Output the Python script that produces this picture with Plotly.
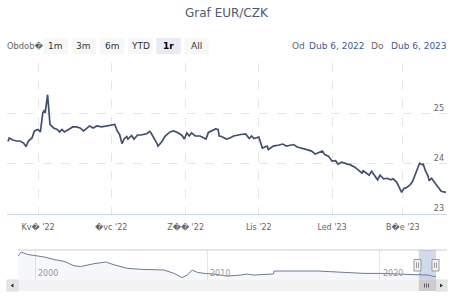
import plotly.graph_objects as go

W, H = 454, 302

# ---- main series: EUR/CZK, last year ----
dates = [
    "2022-04-06", "2022-04-07", "2022-04-10", "2022-04-13", "2022-04-16", "2022-04-19",
    "2022-04-21", "2022-04-23", "2022-04-26", "2022-04-28", "2022-05-01", "2022-05-03",
    "2022-05-05", "2022-05-06", "2022-05-07", "2022-05-09", "2022-05-10", "2022-05-11",
    "2022-05-14", "2022-05-17", "2022-05-19", "2022-05-21", "2022-05-23", "2022-05-26",
    "2022-05-30", "2022-06-02", "2022-06-05", "2022-06-08", "2022-06-11", "2022-06-13",
    "2022-06-16", "2022-06-19", "2022-06-23", "2022-06-27", "2022-07-01", "2022-07-04",
    "2022-07-06", "2022-07-08", "2022-07-10", "2022-07-12", "2022-07-14", "2022-07-15",
    "2022-07-18", "2022-07-20", "2022-07-23", "2022-07-26", "2022-07-31", "2022-08-02",
    "2022-08-03", "2022-08-05", "2022-08-08", "2022-08-09", "2022-08-12", "2022-08-15",
    "2022-08-19", "2022-08-22", "2022-08-26", "2022-08-29", "2022-08-31", "2022-09-02",
    "2022-09-04", "2022-09-06", "2022-09-09", "2022-09-13", "2022-09-15", "2022-09-18",
    "2022-09-20", "2022-09-23", "2022-09-26", "2022-09-28", "2022-09-29", "2022-10-01",
    "2022-10-05", "2022-10-08", "2022-10-11", "2022-10-17", "2022-10-21", "2022-10-24",
    "2022-10-26", "2022-10-28", "2022-11-01", "2022-11-04", "2022-11-08", "2022-11-09",
    "2022-11-13", "2022-11-18", "2022-11-21", "2022-11-24", "2022-11-30", "2022-12-03",
    "2022-12-07", "2022-12-11", "2022-12-15", "2022-12-18", "2022-12-21", "2022-12-24",
    "2022-12-26", "2022-12-29", "2023-01-01", "2023-01-04", "2023-01-06", "2023-01-09",
    "2023-01-14", "2023-01-16", "2023-01-20", "2023-01-23", "2023-01-26", "2023-01-27",
    "2023-01-30", "2023-02-01", "2023-02-03", "2023-02-05", "2023-02-08", "2023-02-10",
    "2023-02-13", "2023-02-16", "2023-02-19", "2023-02-21", "2023-02-24", "2023-02-26",
    "2023-02-28", "2023-03-02", "2023-03-03", "2023-03-05", "2023-03-07", "2023-03-09",
    "2023-03-11", "2023-03-13", "2023-03-15", "2023-03-17", "2023-03-18", "2023-03-20",
    "2023-03-22", "2023-03-23", "2023-03-25", "2023-03-28", "2023-03-31", "2023-04-02",
    "2023-04-06",
]
values = [
    24.44, 24.51, 24.47, 24.45, 24.45, 24.41,
    24.34, 24.45, 24.51, 24.65, 24.68, 24.63,
    25.01, 25.05, 25.01, 25.37, 25.08, 24.78,
    24.71, 24.68, 24.63, 24.68, 24.63, 24.68,
    24.73, 24.73, 24.71, 24.65, 24.71, 24.75,
    24.71, 24.75, 24.73, 24.75, 24.76, 24.78,
    24.65, 24.58, 24.40, 24.50, 24.54, 24.49,
    24.56, 24.49, 24.57, 24.57, 24.60, 24.64,
    24.62, 24.54, 24.41, 24.35, 24.43, 24.55,
    24.63, 24.65, 24.61, 24.56, 24.49, 24.61,
    24.55, 24.61, 24.55, 24.55, 24.52, 24.49,
    24.62, 24.66, 24.69, 24.68, 24.55, 24.54,
    24.49, 24.51, 24.55, 24.58, 24.59, 24.50,
    24.55, 24.50, 24.53, 24.31, 24.35, 24.28,
    24.35, 24.37, 24.39, 24.35, 24.38, 24.33,
    24.31, 24.28, 24.25, 24.19, 24.22, 24.25,
    24.18, 24.15, 24.05, 24.06, 23.99, 24.03,
    23.99, 23.98, 23.93, 23.87, 23.81, 23.86,
    23.81, 23.77, 23.85, 23.79, 23.68, 23.77,
    23.70, 23.71, 23.68, 23.70, 23.63, 23.53,
    23.43, 23.51, 23.51, 23.54, 23.58, 23.64,
    23.76, 23.90, 24.01, 23.98, 23.99, 23.85,
    23.76, 23.66, 23.71, 23.61, 23.51, 23.45,
    23.43,
]

# ---- long history shown in the navigator (read from the navigator) ----
hist_dates = [
    "1999-01-04", "1999-03-15", "1999-07-20", "1999-12-10", "2000-07-08", "2001-02-05",
    "2001-09-05", "2002-04-05", "2002-08-25", "2003-06-01", "2004-02-05", "2004-07-30",
    "2005-05-08", "2006-02-15", "2006-11-25", "2007-06-25", "2008-01-22", "2008-07-15",
    "2008-10-30", "2009-02-14", "2009-05-30", "2009-10-20", "2010-05-18", "2011-02-25",
    "2011-12-05", "2012-04-22", "2012-09-12", "2013-06-20", "2013-11-05", "2013-11-10",
    "2015-03-18", "2016-06-15", "2017-02-25", "2018-02-10", "2019-01-30", "2020-01-18",
    "2021-01-05", "2021-12-25",
]
hist_values = [
    35.7, 38.1, 36.7, 36.1, 35.2, 33.7,
    32.6, 30.0, 29.55, 31.2, 32.2, 30.6,
    28.5, 27.9, 27.5, 27.5, 25.5, 23.0,
    24.5, 27.5, 26.1, 25.5, 25.1, 23.9,
    24.5, 25.1, 24.5, 25.1, 25.2, 26.9,
    27.1, 26.9, 26.5, 25.9, 25.5, 25.5,
    25.1, 24.5,
]

# ---- labels ----
title_text = "Graf EUR/CZK"
x_tick_dates = ["2022-05-01", "2022-07-01", "2022-09-01", "2022-11-01", "2023-01-01", "2023-03-01"]
x_tick_labels = ["Kv\ufffd '22", "\ufffdvc '22", "Z\ufffd\ufffd '22", "Lis '22", "Led '23", "B\ufffde '23"]
y_ticks = [23, 24, 25, 26]
y_tick_labels = ["23", "24", "25", ""]
nav_ticks = ["2000-01-01", "2010-01-01", "2020-01-01"]
nav_tick_labels = ["2000", "2010", "2020"]
period_label = "Obdob\ufffd"
buttons = ["1m", "3m", "6m", "YTD", "1r", "All"]
selected_button = "1r"
from_label, from_date = "Od", "Dub 6, 2022"
to_label, to_date = "Do", "Dub 6, 2023"
view_start, view_end = dates[0], dates[-1]

FONT = "DejaVu Sans"


def px(x):
    return x / W


def py(y):
    return 1 - y / H


def label(x, y, text, size, color, xanchor="center", xref="paper"):
    return dict(x=x, y=py(y), xref=xref, yref="paper", text=text, showarrow=False,
                xanchor=xanchor, yanchor="middle", borderpad=0,
                font=dict(family=FONT, size=size, color=color))


fig = go.Figure()

fig.add_trace(go.Scatter(
    x=dates, y=values, mode="lines",
    line=dict(color="#434f70", width=1.7),
    xaxis="x", yaxis="y", hoverinfo="skip",
))

fig.add_trace(go.Scatter(
    x=hist_dates + dates, y=hist_values + values, mode="lines",
    line=dict(color="#6d7a96", width=1),
    fill="tozeroy", fillcolor="rgba(51,92,173,0.05)",
    xaxis="x2", yaxis="y2", hoverinfo="skip",
))

shapes = []
annotations = []

# title
annotations.append(label(px(227), 13, title_text, 12, "#4e5a75"))

# range selector
annotations.append(label(px(6), 46, period_label, 8.3, "#666666", xanchor="left"))
for i, b in enumerate(buttons):
    x0 = 43.5 + i * 28.2
    sel = b == selected_button
    shapes.append(dict(type="rect", xref="paper", yref="paper", x0=px(x0), x1=px(x0 + 24.5),
                       y0=py(54), y1=py(38), fillcolor="#e6ebf5" if sel else "#f7f7f7",
                       line=dict(width=0), layer="below"))
    annotations.append(label(px(x0 + 12.25), 46, f"<b>{b}</b>" if sel else b, 9,
                             "#000000" if sel else "#333333"))

for txt, x0, col in [(from_label, 291, "#666666"), (from_date, 308, "#3a5a94"),
                     (to_label, 370, "#666666"), (to_date, 390, "#3a5a94")]:
    annotations.append(label(px(x0), 46, txt, 9, col, xanchor="left"))

# navigator outline
shapes.append(dict(type="line", xref="paper", yref="paper", x0=px(18), x1=px(447),
                   y0=py(250), y1=py(250), line=dict(color="#cccccc", width=1)))
# navigator mask (selected range)
shapes.append(dict(type="rect", xref="x2", yref="paper", x0=view_start, x1=view_end,
                   y0=py(280), y1=py(250), fillcolor="rgba(102,133,194,0.3)", line=dict(width=0)))

# navigator labels
for d, t in zip(nav_ticks, nav_tick_labels):
    a = label(d, 273, t, 8, "#999999", xanchor="left", xref="x2")
    a["xshift"] = 2
    annotations.append(a)

# scrollbar
shapes.append(dict(type="rect", xref="paper", yref="paper", x0=px(7), x1=px(447),
                   y0=py(291), y1=py(280), fillcolor="#f2f2f2", line=dict(width=0)))
for bx0 in (7, 436):
    shapes.append(dict(type="rect", xref="paper", yref="paper", x0=px(bx0), x1=px(bx0 + 11),
                       y0=py(291), y1=py(280), fillcolor="#e6e6e6",
                       line=dict(color="#dddddd", width=1)))
shapes.append(dict(type="path", xref="paper", yref="paper",
                   path=f"M {px(13.5)} {py(283.5)} L {px(10.5)} {py(285.5)} L {px(13.5)} {py(287.5)} Z",
                   fillcolor="#333333", line=dict(width=0)))
shapes.append(dict(type="path", xref="paper", yref="paper",
                   path=f"M {px(440)} {py(283.5)} L {px(443)} {py(285.5)} L {px(440)} {py(287.5)} Z",
                   fillcolor="#333333", line=dict(width=0)))
# thumb
shapes.append(dict(type="rect", xref="x2", yref="paper", x0=view_start, x1=view_end,
                   y0=py(291), y1=py(280), fillcolor="#cccccc", line=dict(width=0)))
for rx in (424.5, 426.5, 428.5):
    shapes.append(dict(type="line", xref="paper", yref="paper", x0=px(rx), x1=px(rx),
                       y0=py(283.5), y1=py(287.5), line=dict(color="#444444", width=0.8)))

# navigator handles
for hx in (417.5, 435.5):
    shapes.append(dict(type="rect", xref="paper", yref="paper", x0=px(hx - 3.5), x1=px(hx + 3.5),
                       y0=py(271), y1=py(259.5), fillcolor="#f2f2f2",
                       line=dict(color="#999999", width=1)))
    for lx in (hx - 1, hx + 1):
        shapes.append(dict(type="line", xref="paper", yref="paper", x0=px(lx), x1=px(lx),
                           y0=py(262.5), y1=py(268), line=dict(color="#999999", width=1)))

fig.update_layout(
    width=W, height=H, autosize=False,
    margin=dict(l=0, r=0, t=0, b=0),
    paper_bgcolor="white", plot_bgcolor="white",
    showlegend=False,
    font=dict(family=FONT, color="#666666"),
    xaxis=dict(
        domain=[px(7), px(447)], anchor="y",
        range=["2022-04-05 04:00", "2023-04-06 20:00"],
        tickmode="array", tickvals=x_tick_dates, ticktext=x_tick_labels,
        showgrid=True, gridcolor="#e6e6e6", griddash="dash", gridwidth=1,
        showline=True, linecolor="#ccd6eb", linewidth=1,
        ticks="", ticklabelstandoff=5, tickfont=dict(family=FONT, size=8, color="#666666"),
        zeroline=False, fixedrange=True,
    ),
    yaxis=dict(
        domain=[py(214), py(63)], anchor="x",
        range=[23, 26], side="right",
        tickmode="array", tickvals=y_ticks, ticktext=y_tick_labels,
        ticklabelposition="inside top",
        showgrid=True, gridcolor="#e6e6e6", griddash="dash", gridwidth=1,
        showline=False, zeroline=False, ticks="",
        tickfont=dict(family=FONT, size=8, color="#666666"), fixedrange=True,
    ),
    xaxis2=dict(
        domain=[px(18), px(436)], anchor="y2",
        range=["1999-01-04", "2023-04-06"],
        tickmode="array", tickvals=nav_ticks, showticklabels=False,
        showgrid=True, gridcolor="#e6e6e6", gridwidth=1,
        showline=False, zeroline=False, ticks="", fixedrange=True,
    ),
    yaxis2=dict(
        domain=[py(280), py(250)], anchor="x2",
        range=[21.6, 39.3], showgrid=False, showticklabels=False,
        showline=False, zeroline=False, ticks="", fixedrange=True,
    ),
    shapes=shapes,
    annotations=annotations,
)

fig.write_html("out.html", config={"displayModeBar": False})
